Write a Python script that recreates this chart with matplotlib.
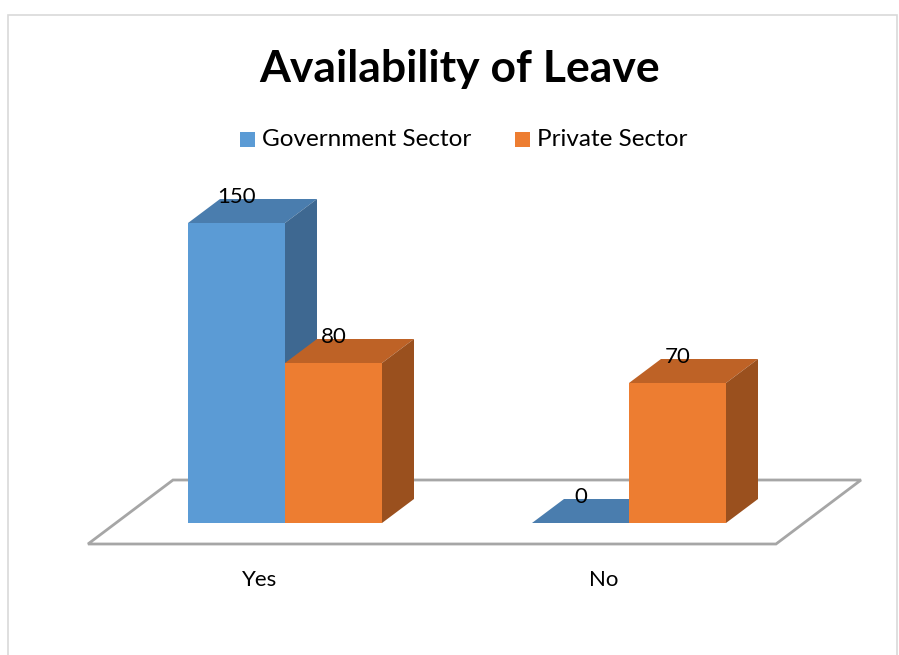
import matplotlib.pyplot as plt
from matplotlib.patches import Polygon, Rectangle

# Survey answers: number of respondents reporting leave availability
categories = ["Yes", "No"]
series_names = ["Government Sector", "Private Sector"]
government = [150, 0]
private = [80, 70]

front_colors = ["#5B9BD5", "#ED7D31"]
top_colors = ["#4A7DAE", "#BE6226"]
side_colors = ["#3E6891", "#9A501E"]

plt.rcParams['font.family'] = ['Lato', 'DejaVu Sans']

fig = plt.figure(figsize=(8.99, 6.55), dpi=100)
ax = fig.add_axes([0, 0, 1, 1])
ax.set_xlim(0, 899)
ax.set_ylim(-66, 261.5)   # 2 px per respondent, baseline at y=0
ax.axis("off")

# outer chart border
fig.patches.append(Rectangle((8, -5), 889, 645, transform=None, fill=False,
                             edgecolor="#D9D9D9", lw=1.2))

# 3D depth offset of a bar, in data units
ddx, ddy = 32, 12

# floor plane
floor_front = -10.5
floor_depth_x, floor_depth_y = 85, 32
floor_left, floor_right = 88, 776
floor = Polygon([(floor_left, floor_front), (floor_right, floor_front),
                 (floor_right + floor_depth_x, floor_front + floor_depth_y),
                 (floor_left + floor_depth_x, floor_front + floor_depth_y)],
                closed=True, facecolor="white", edgecolor="#A6A6A6", lw=2, zorder=1)
ax.add_patch(floor)

group_width = (floor_right - floor_left) / len(categories)
bar_w = 97


def draw_bar(x, h, k):
    ax.bar(x, h, width=bar_w, bottom=0, align="edge", color=front_colors[k],
           edgecolor="none", zorder=2)
    top = Polygon([(x, h), (x + bar_w, h), (x + bar_w + ddx, h + ddy), (x + ddx, h + ddy)],
                  closed=True, facecolor=top_colors[k], edgecolor="none", zorder=2)
    side = Polygon([(x + bar_w, 0), (x + bar_w + ddx, ddy), (x + bar_w + ddx, h + ddy),
                    (x + bar_w, h)],
                   closed=True, facecolor=side_colors[k], edgecolor="none", zorder=2)
    ax.add_patch(top)
    ax.add_patch(side)
    ax.text(x + bar_w / 2, h + 13, f"{h}", ha="center", va="center",
            fontsize=16, color="black", zorder=3)


for i, cat in enumerate(categories):
    center = floor_left + group_width * (i + 0.5)
    x0 = center - 72
    for k, vals in enumerate([government, private]):
        draw_bar(x0 + k * bar_w, vals[i], k)
    ax.text(center, -28.5, cat, ha="center", va="center", fontsize=16)

ax.text(460, 227, "Availability of Leave", ha="center", va="center",
        fontsize=32, fontweight="bold")

# legend
leg_y = 192
for k, (name, lx) in enumerate(zip(series_names, [240, 515])):
    ax.add_patch(Rectangle((lx, leg_y - 3.75), 15, 7.5, facecolor=front_colors[k],
                           edgecolor="none"))
    ax.text(lx + 22, leg_y - 0.5, name, ha="left", va="center", fontsize=17.5)

fig.savefig("out.png", dpi=100)
